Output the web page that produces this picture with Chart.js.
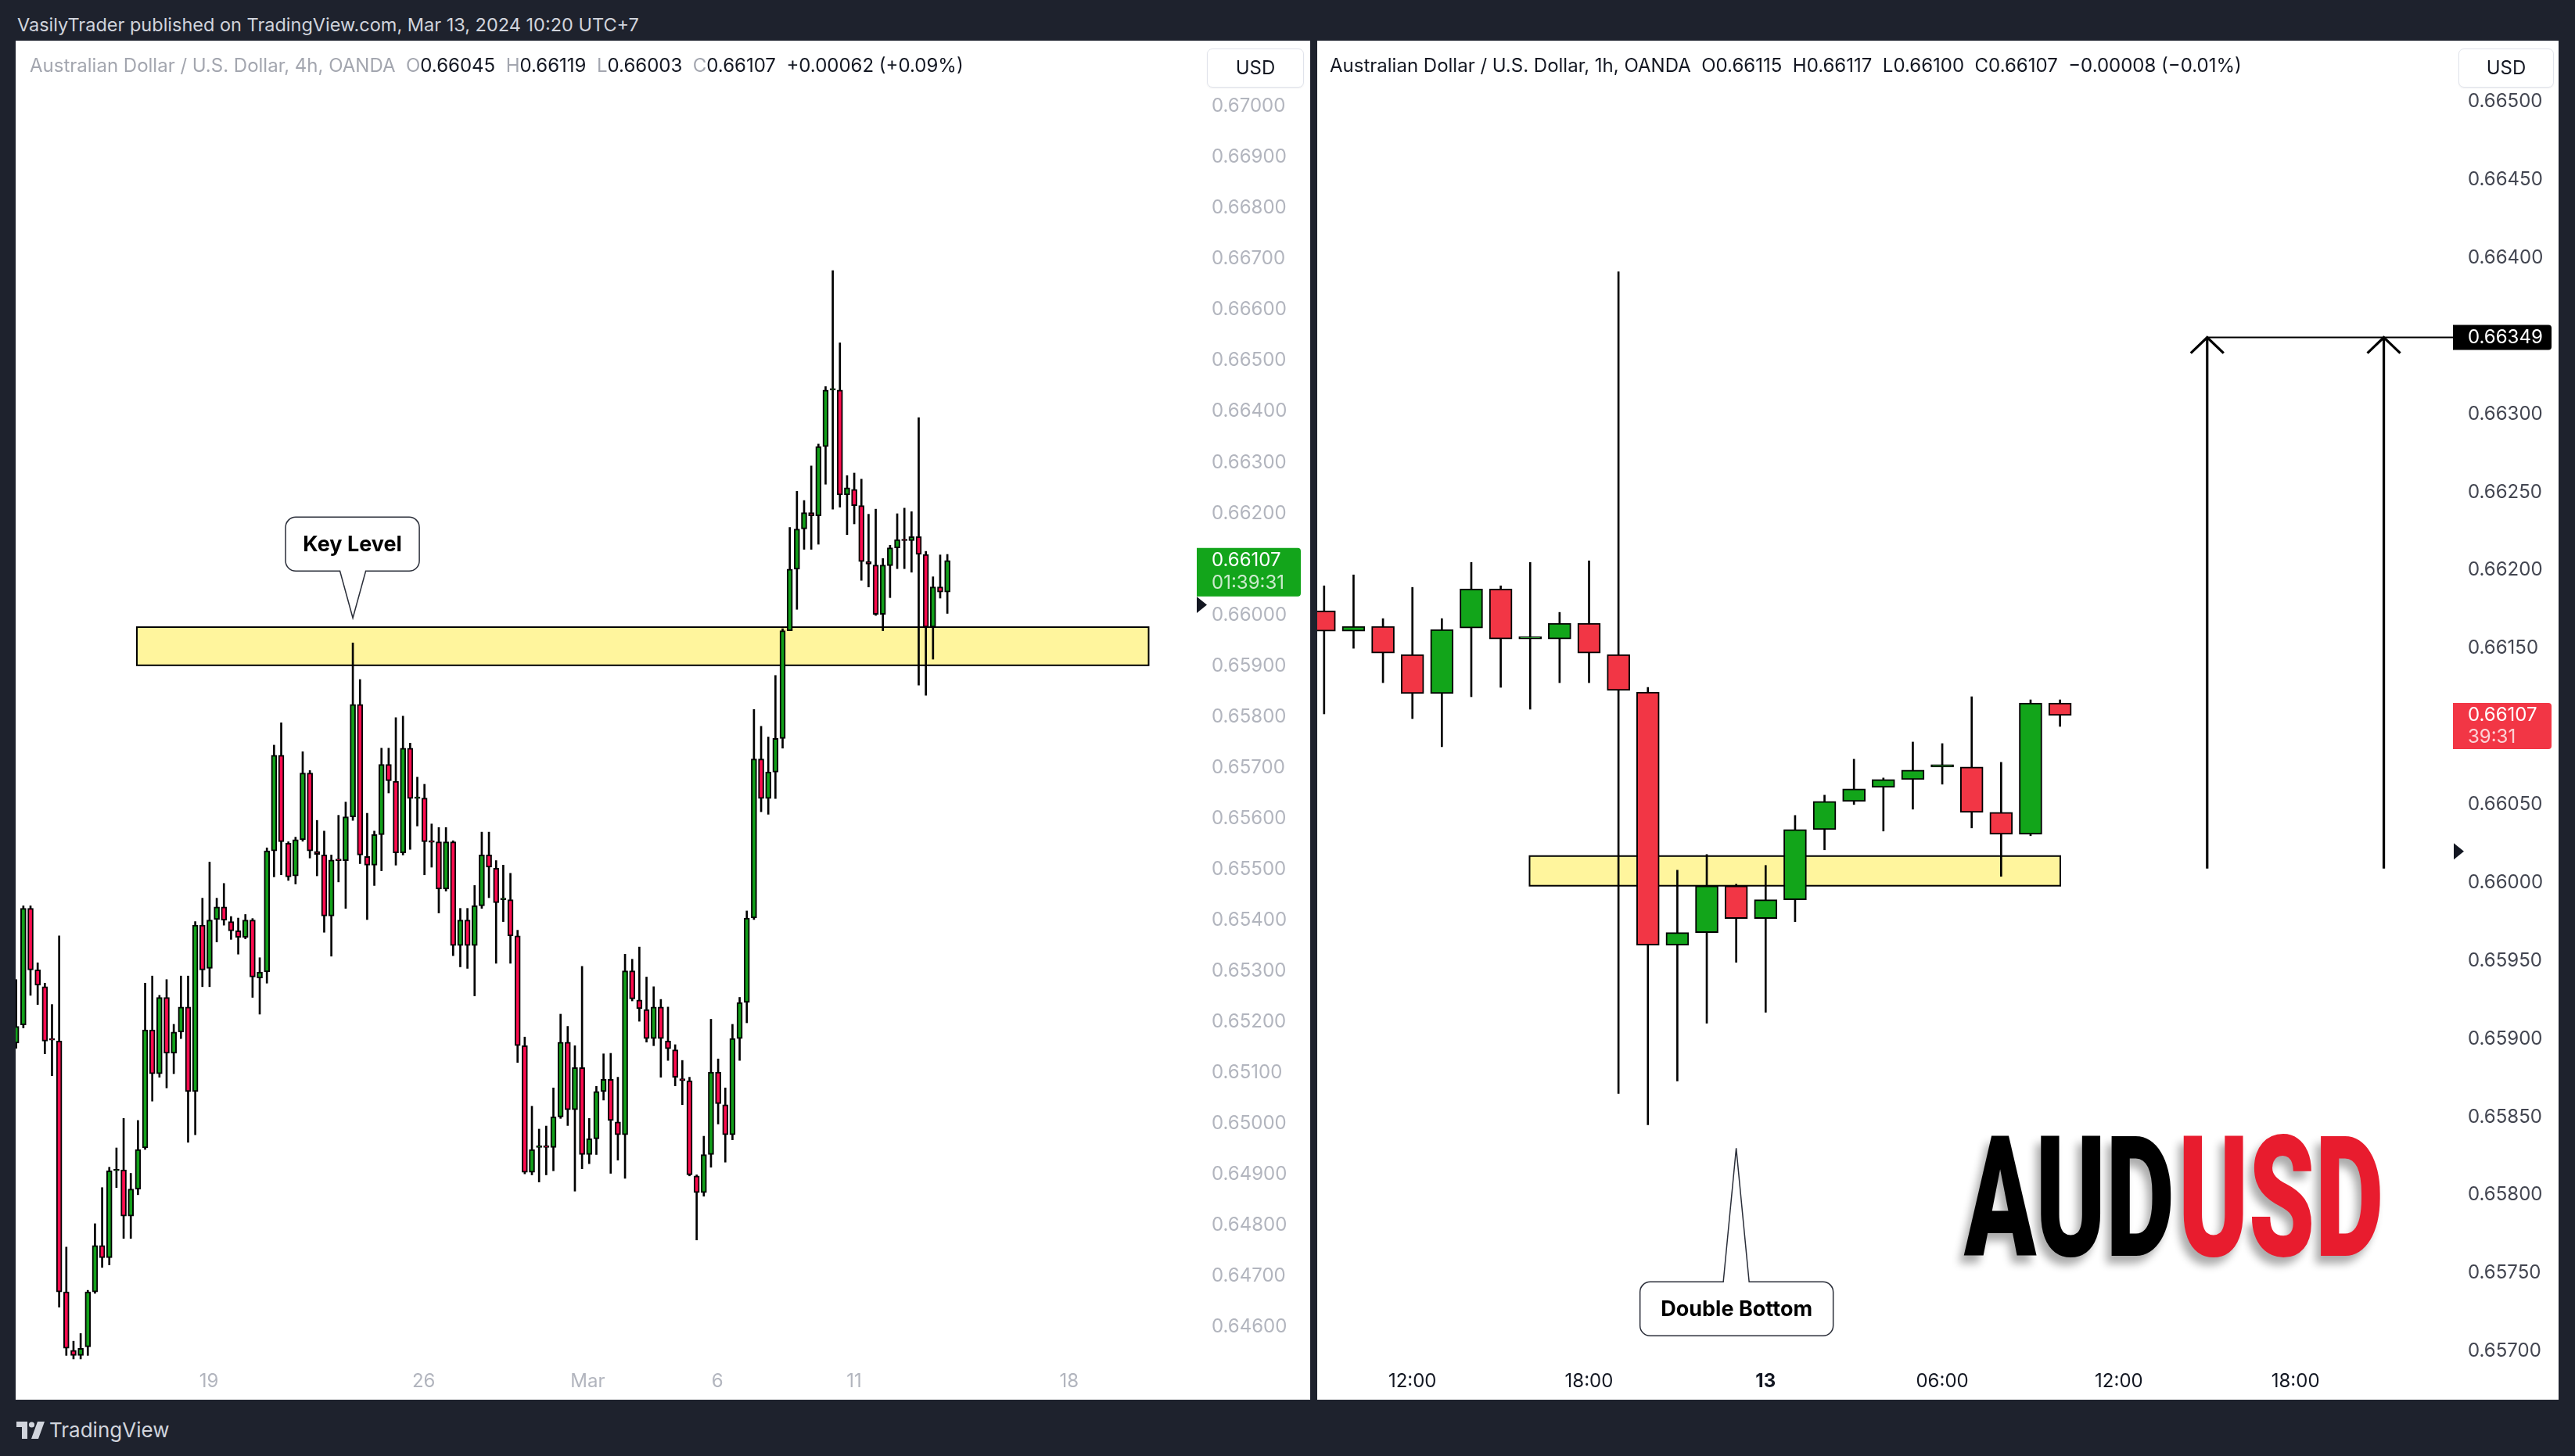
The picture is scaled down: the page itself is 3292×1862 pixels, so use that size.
<!DOCTYPE html>
<html>
<head>
<meta charset="utf-8">
<title>AUDUSD</title>
<script src="https://cdn.jsdelivr.net/npm/chart.js@4.4.1/dist/chart.umd.min.js"></script>
<style>
  html, body { margin:0; padding:0; }
  body { width:3292px; height:1862px; background:#1e222d; position:relative; overflow:hidden; font-family: Inter, Roboto, "Noto Sans", sans-serif; }
  #topline { position:absolute; left:22px; top:17px; font-size:23.5px; line-height:30px; color:#d1d4dc; white-space:nowrap; }
  .panel { position:absolute; top:52px; height:1738px; background:#fff; overflow:hidden; }
  #panelL { left:20px; width:1655px; }
  #panelR { left:1684px; width:1587px; }
  .panel canvas { position:absolute; left:0; top:0; }
  .hdr { position:absolute; top:17px; font-size:24px; line-height:30px; white-space:nowrap; color:#131722; }
  .hdr .dim { color:#a3a6af; }
  .usd { position:absolute; top:10px; height:48px; border:1px solid #e0e3eb; border-radius:7px; background:#fff; font-size:24px; line-height:48px; text-align:center; color:#131722; box-shadow:0 1px 2px rgba(0,0,0,0.06); }
  #logo { position:absolute; left:2511px; top:1425px; font-family: Roboto, "Liberation Sans", sans-serif; font-weight:900; font-size:215px; line-height:215px; white-space:nowrap; transform:scaleX(0.63); transform-origin:0 0; color:#000; text-shadow:-10px 10px 14px rgba(0,0,0,0.33); }
  #logo span { color:#e81c2e; margin-left:8px; }
  #footer { position:absolute; left:21px; top:1814px; height:30px; color:#d1d4dc; font-size:26px; line-height:30px; white-space:nowrap; }
  #footer svg { position:absolute; left:0; top:4px; }
  #footer span { position:absolute; left:42px; top:0; }
</style>
</head>
<body>
<div id="topline">VasilyTrader published on TradingView.com, Mar 13, 2024 10:20 UTC+7</div>

<div class="panel" id="panelL">
  <canvas id="chartL" width="1655" height="1738"></canvas>
  <div class="hdr" id="hdrL" style="left:18px;"></div>
  <div class="usd" style="left:1523px; width:122px;">USD</div>
</div>

<div class="panel" id="panelR">
  <canvas id="chartR" width="1587" height="1738"></canvas>
  <div class="hdr" id="hdrR" style="left:16px;"></div>
  <div class="usd" style="left:1459px; width:120px;">USD</div>
</div>

<div id="logo">AUD<span>USD</span></div>

<div id="footer">
  <svg width="36" height="22" viewBox="0 0 36 22"><path d="M0 0H14V22H7V7H0Z" fill="#d1d4dc"/><circle cx="19.5" cy="4" r="3.6" fill="#d1d4dc"/><path d="M27 0H36L28 22H19Z" fill="#d1d4dc"/></svg>
  <span>TradingView</span>
</div>

<script>
// ---------------- DATA: AUD/USD 4h (left panel) ----------------
const leftOpen = [0.65158,0.65194,0.65423,0.65302,0.65269,0.65165,0.65162,0.64669,0.64554,0.64544,
0.64561,0.64669,0.64760,0.64736,0.64907,0.64909,0.64818,0.64871,0.64952,0.65184,
0.65098,0.65248,0.65138,0.65180,0.65229,0.65063,0.65390,0.65305,0.65401,0.65426,
0.65397,0.65379,0.65366,0.65400,0.65286,0.65298,0.65536,0.65724,0.65551,0.65487,
0.65558,0.65689,0.65535,0.65528,0.65408,0.65518,0.65517,0.65603,0.65824,0.65525,
0.65508,0.65568,0.65706,0.65673,0.65532,0.65738,0.65639,0.65640,0.65554,0.65554,
0.65461,0.65554,0.65350,0.65400,0.65350,0.65428,0.65528,0.65502,0.65440,0.65440,
0.65369,0.65153,0.64904,0.64953,0.64954,0.64953,0.65013,0.65160,0.65027,0.65110,
0.64939,0.64970,0.65063,0.65087,0.65003,0.64978,0.65300,0.65243,0.65224,0.65167,
0.65229,0.65162,0.65145,0.65088,0.65084,0.64897,0.64864,0.64939,0.65101,0.65037,
0.64978,0.65167,0.65238,0.65404,0.65717,0.65639,0.65691,0.65757,0.65969,0.66090,
0.66169,0.66201,0.66195,0.66331,0.66442,0.66442,0.66236,0.66247,0.66215,0.66105,
0.66098,0.66001,0.66097,0.66132,0.66147,0.66146,0.66154,0.66119,0.65976,0.66055,
0.66045];
const leftHigh = [0.65283,0.65428,0.65428,0.65316,0.65276,0.65234,0.65369,0.64757,0.64572,0.64587,
0.64672,0.64803,0.64874,0.64914,0.64952,0.65010,0.64902,0.65006,0.65276,0.65290,
0.65252,0.65283,0.65195,0.65290,0.65290,0.65397,0.65443,0.65514,0.65443,0.65472,
0.65407,0.65404,0.65411,0.65403,0.65326,0.65542,0.65744,0.65788,0.65554,0.65563,
0.65731,0.65694,0.65596,0.65575,0.65528,0.65606,0.65632,0.65945,0.65873,0.65610,
0.65575,0.65738,0.65738,0.65798,0.65801,0.65748,0.65681,0.65667,0.65589,0.65582,
0.65582,0.65556,0.65423,0.65423,0.65468,0.65573,0.65573,0.65517,0.65508,0.65492,
0.65380,0.65170,0.65034,0.64989,0.64995,0.65070,0.65215,0.65191,0.65153,0.65309,
0.65010,0.65073,0.65137,0.65138,0.65091,0.65333,0.65323,0.65347,0.65288,0.65269,
0.65244,0.65229,0.65155,0.65124,0.65091,0.64899,0.64975,0.65205,0.65127,0.65070,
0.65195,0.65248,0.65418,0.65814,0.65781,0.65760,0.65881,0.65973,0.66172,0.66243,
0.66225,0.66293,0.66336,0.66449,0.66677,0.66535,0.66274,0.66279,0.66267,0.66198,
0.66208,0.66111,0.66137,0.66199,0.66210,0.66203,0.66388,0.66125,0.66075,0.66118,
0.66119];
const leftLow = [0.65148,0.65188,0.65252,0.65234,0.65137,0.65094,0.64639,0.64544,0.64537,0.64537,
0.64544,0.64666,0.64717,0.64722,0.64874,0.64774,0.64774,0.64860,0.64949,0.65044,
0.65091,0.65070,0.65098,0.65167,0.64963,0.64978,0.65269,0.65269,0.65357,0.65390,
0.65362,0.65333,0.65363,0.65248,0.65215,0.65276,0.65485,0.65489,0.65478,0.65471,
0.65555,0.65522,0.65487,0.65376,0.65329,0.65475,0.65423,0.65596,0.65511,0.65401,
0.65468,0.65497,0.65650,0.65508,0.65528,0.65539,0.65585,0.65489,0.65504,0.65414,
0.65457,0.65330,0.65308,0.65305,0.65251,0.65423,0.65444,0.65315,0.65397,0.65315,
0.65120,0.64901,0.64899,0.64885,0.64899,0.64907,0.65010,0.64996,0.64867,0.64911,
0.64921,0.64939,0.65046,0.64902,0.64928,0.64892,0.65241,0.65201,0.65160,0.65153,
0.65091,0.65124,0.65074,0.65037,0.64897,0.64771,0.64857,0.64914,0.64999,0.64924,
0.64968,0.65124,0.65198,0.65401,0.65613,0.65608,0.65639,0.65738,0.65969,0.66011,
0.66129,0.66129,0.66139,0.66257,0.66208,0.66212,0.66158,0.66179,0.66068,0.66055,
0.65999,0.65969,0.66034,0.66091,0.66091,0.66084,0.65862,0.65842,0.65913,0.66033,
0.66003];
const leftClose = [0.65191,0.65423,0.65302,0.65272,0.65162,0.65164,0.64669,0.64558,0.64544,0.64558,
0.64669,0.64760,0.64736,0.64907,0.64909,0.64818,0.64871,0.64949,0.65184,0.65098,
0.65248,0.65138,0.65180,0.65229,0.65063,0.65390,0.65302,0.65400,0.65426,0.65400,
0.65379,0.65366,0.65400,0.65288,0.65298,0.65536,0.65724,0.65554,0.65485,0.65558,
0.65689,0.65536,0.65529,0.65408,0.65518,0.65517,0.65603,0.65824,0.65528,0.65508,
0.65568,0.65706,0.65674,0.65532,0.65738,0.65639,0.65640,0.65554,0.65553,0.65461,
0.65554,0.65350,0.65400,0.65350,0.65428,0.65528,0.65504,0.65434,0.65441,0.65369,
0.65153,0.64904,0.64949,0.64954,0.64953,0.65013,0.65160,0.65027,0.65110,0.64939,
0.64970,0.65063,0.65087,0.65006,0.64978,0.65300,0.65245,0.65226,0.65167,0.65229,
0.65167,0.65147,0.65091,0.65084,0.64899,0.64864,0.64939,0.65101,0.65039,0.64978,
0.65167,0.65238,0.65404,0.65717,0.65639,0.65691,0.65757,0.65969,0.66090,0.66169,
0.66201,0.66195,0.66331,0.66442,0.66443,0.66236,0.66250,0.66215,0.66105,0.66100,
0.66001,0.66098,0.66132,0.66148,0.66146,0.66154,0.66119,0.65976,0.66055,0.66045,
0.66107];
const leftDateTickPos = [26.9, 56.9, 79.8, 97.9, 117, 147];
const leftDateTickLabels = ['19', '26', 'Mar', '6', '11', '18'];
const leftPriceTicks = [0.670,0.669,0.668,0.667,0.666,0.665,0.664,0.663,0.662,0.660,0.659,0.658,0.657,0.656,0.655,0.654,0.653,0.652,0.651,0.650,0.649,0.648,0.647,0.646];
const keyLevelZone = { from: 16.85, to: 158.1, top: 0.65976, bottom: 0.65901 };
const keyLevelNote = { x: 47, y: 0.65994, text: 'Key Level' };

// ---------------- DATA: AUD/USD 1h (right panel) ----------------
const rightOpen  = [0.66174,0.66161,0.66164,0.66146,0.66121,0.66163,0.66188,0.66156,0.66156,0.66166,0.66146,0.66122,0.65960,0.65968,0.65998,0.65977,0.65989,0.66034,0.66052,0.66061,0.66066,0.66074,0.66074,0.66045,0.66031,0.66115];
const rightHigh  = [0.66190,0.66197,0.66169,0.66189,0.66169,0.66205,0.66190,0.66205,0.66173,0.66206,0.66391,0.66125,0.66008,0.66018,0.65999,0.66011,0.66043,0.66056,0.66079,0.66067,0.66090,0.66089,0.66119,0.66077,0.66117,0.66117];
const rightLow   = [0.66108,0.66150,0.66128,0.66105,0.66087,0.66119,0.66125,0.66111,0.66128,0.66128,0.65865,0.65845,0.65873,0.65910,0.65949,0.65917,0.65975,0.66021,0.66050,0.66033,0.66047,0.66063,0.66035,0.66004,0.66030,0.66100];
const rightClose = [0.66161,0.66164,0.66147,0.66121,0.66162,0.66188,0.66156,0.66156,0.66166,0.66147,0.66123,0.65960,0.65968,0.65998,0.65977,0.65989,0.66034,0.66052,0.66060,0.66066,0.66072,0.66074,0.66045,0.66031,0.66115,0.66107];
const rightTimeTickPos = [3, 9, 15, 21, 27, 33];
const rightTimeTickLabels = ['12:00', '18:00', '13', '06:00', '12:00', '18:00'];
const rightPriceTicks = [0.665,0.6645,0.664,0.663,0.6625,0.662,0.6615,0.6605,0.660,0.6595,0.659,0.6585,0.658,0.6575,0.657];
const doubleBottomZone = { from: 6.98, to: 25.01, top: 0.66017, bottom: 0.65998 };
const doubleBottomNote = { x: 14, y: 0.65830, text: 'Double Bottom' };
const targetPrice = 0.66349;
const arrowBase = 0.66009;
const arrowPos = [30, 36];
const markerPrice = 0.6602;

// ---------------- helpers ----------------
const FONT = 'Inter, Roboto, sans-serif';
function fmt(v){ return Number(v).toFixed(5); }
function signed(v){ return (v >= 0 ? '+' : '\u2212') + Math.abs(v).toFixed(5); }
function signedPct(v){ return (v >= 0 ? '+' : '\u2212') + Math.abs(v).toFixed(2) + '%'; }

function header(el, title, O, H, L, C, prevC, dim){
  const ch = C - prevC, pct = ch / prevC * 100;
  const d = dim ? ' class="dim"' : '';
  el.innerHTML = '<span' + d + '>' + title + '</span>&nbsp;&nbsp;' +
    '<span' + d + '>O</span>' + fmt(O) + '&nbsp;&nbsp;' +
    '<span' + d + '>H</span>' + fmt(H) + '&nbsp;&nbsp;' +
    '<span' + d + '>L</span>' + fmt(L) + '&nbsp;&nbsp;' +
    '<span' + d + '>C</span>' + fmt(C) + '&nbsp;&nbsp;' +
    signed(ch) + ' (' + signedPct(pct) + ')';
}

function roundedPath(ctx, x, y, w, h, rTL, rTR, rBR, rBL){
  ctx.beginPath();
  ctx.moveTo(x + rTL, y);
  ctx.lineTo(x + w - rTR, y); ctx.arcTo(x + w, y, x + w, y + rTR, rTR);
  ctx.lineTo(x + w, y + h - rBR); ctx.arcTo(x + w, y + h, x + w - rBR, y + h, rBR);
  ctx.lineTo(x + rBL, y + h); ctx.arcTo(x, y + h, x, y + h - rBL, rBL);
  ctx.lineTo(x, y + rTL); ctx.arcTo(x, y, x + rTL, y, rTL);
  ctx.closePath();
}

function priceTag(ctx, x, yc, w, h, bg, line1, line2, gap){
  ctx.save();
  ctx.fillStyle = bg;
  roundedPath(ctx, x, yc - 16, w, h, 0.01, 4, 4, 0.01);
  ctx.fill();
  ctx.font = '24px ' + FONT;
  ctx.textBaseline = 'middle';
  ctx.textAlign = 'left';
  ctx.fillStyle = '#ffffff';
  ctx.fillText(line1, x + 19, yc);
  if (line2) { ctx.fillStyle = 'rgba(255,255,255,0.78)'; ctx.fillText(line2, x + 19, yc + gap); }
  ctx.restore();
}

function marker(ctx, x, yc){
  ctx.save();
  ctx.fillStyle = '#131722';
  ctx.beginPath();
  ctx.moveTo(x, yc - 10.5); ctx.lineTo(x + 13, yc); ctx.lineTo(x, yc + 10.5); ctx.closePath();
  ctx.fill();
  ctx.restore();
}

function zone(chart, z){
  const {ctx, scales:{x, y}} = chart;
  const x0 = x.getPixelForValue(z.from), x1 = x.getPixelForValue(z.to);
  const y0 = y.getPixelForValue(z.top), y1 = y.getPixelForValue(z.bottom);
  ctx.save();
  ctx.fillStyle = '#fff59d';
  ctx.fillRect(x0, y0, x1 - x0, y1 - y0);
  ctx.lineWidth = 2;
  ctx.strokeStyle = '#000';
  ctx.strokeRect(x0, y0, x1 - x0, y1 - y0);
  ctx.restore();
}

function bubble(ctx, tipX, tipY, box, text, up){
  const r = 13, hw = 16.5;
  ctx.save();
  ctx.beginPath();
  ctx.moveTo(box.l + r, box.t);
  if (up) { ctx.lineTo(tipX - hw, box.t); ctx.lineTo(tipX, tipY); ctx.lineTo(tipX + hw, box.t); }
  ctx.lineTo(box.r - r, box.t); ctx.arcTo(box.r, box.t, box.r, box.t + r, r);
  ctx.lineTo(box.r, box.b - r); ctx.arcTo(box.r, box.b, box.r - r, box.b, r);
  if (!up) { ctx.lineTo(tipX + hw, box.b); ctx.lineTo(tipX, tipY); ctx.lineTo(tipX - hw, box.b); }
  ctx.lineTo(box.l + r, box.b); ctx.arcTo(box.l, box.b, box.l, box.b - r, r);
  ctx.lineTo(box.l, box.t + r); ctx.arcTo(box.l, box.t, box.l + r, box.t, r);
  ctx.closePath();
  ctx.fillStyle = '#ffffff';
  ctx.fill();
  ctx.lineWidth = 1.5;
  ctx.strokeStyle = '#2a2e39';
  ctx.stroke();
  ctx.fillStyle = '#000000';
  ctx.font = 'bold 27px ' + FONT;
  ctx.textAlign = 'center';
  ctx.textBaseline = 'middle';
  ctx.fillText(text, (box.l + box.r) / 2, (box.t + box.b) / 2 + 1);
  ctx.restore();
}

function candleDatasets(O, H, L, C, up, down, bodyW, wickW, minLen){
  const idx = O.map((_, i) => i);
  return [
    { label:'body', data: idx.map(i => ({x:i, y:[O[i], C[i]]})),
      backgroundColor: idx.map(i => C[i] >= O[i] ? up : down),
      borderColor:'#000', borderWidth:2, borderSkipped:false, barThickness: bodyW,
      minBarLength: minLen, grouped:false, order:1 },
    { label:'wick', data: idx.map(i => ({x:i, y:[L[i], H[i]]})),
      backgroundColor:'#000', borderWidth:0, barThickness: wickW, grouped:false, order:2 }
  ];
}

function makeOptions(cfg){
  return {
    responsive:false, animation:false, maintainAspectRatio:false,
    layout:{ padding:0 },
    plugins:{ legend:{display:false}, tooltip:{enabled:false} },
    scales:{
      x:{ type:'linear', min:cfg.xMin, max:cfg.xMax, offset:false,
          grid:{display:false, drawTicks:false}, border:{display:false},
          afterFit: s => { s.height = 50; s.paddingLeft = 0; s.paddingRight = 0; s.paddingTop = 0; s.paddingBottom = 0; },
          afterBuildTicks: s => { s.ticks = cfg.xTicks.map(v => ({value:v})); },
          ticks:{ autoSkip:false, maxRotation:0, padding:12, color:cfg.xColor,
                  font: c => ({family:FONT, size:24, weight: (cfg.boldIdx === c.index) ? 'bold' : 'normal'}),
                  callback: (v, i) => cfg.xLabels[i] } },
      y:{ type:'linear', position:'right', min:cfg.yMin, max:cfg.yMax,
          grid:{display:false, drawTicks:false}, border:{display:false},
          afterFit: s => { s.width = cfg.yWidth; s.paddingTop = 0; s.paddingBottom = 0; s.paddingLeft = 0; s.paddingRight = 0; },
          afterBuildTicks: s => { s.ticks = cfg.yTicks.map(v => ({value:v})); },
          ticks:{ autoSkip:false, padding:19, color:cfg.yColor, font:{family:FONT, size:24},
                  callback: v => fmt(v) } }
    }
  };
}

// headers
const nL = leftClose.length, nR = rightClose.length;
header(document.getElementById('hdrL'), 'Australian Dollar / U.S. Dollar, 4h, OANDA',
  leftOpen[nL-1], leftHigh[nL-1], leftLow[nL-1], leftClose[nL-1], leftClose[nL-2], true);
header(document.getElementById('hdrR'), 'Australian Dollar / U.S. Dollar, 1h, OANDA',
  rightOpen[nR-1], rightHigh[nR-1], rightLow[nR-1], rightClose[nR-1], rightClose[nR-2], false);

// ---------------- left chart ----------------
const leftDecor = {
  id:'leftDecor',
  beforeDatasetsDraw(chart){ zone(chart, keyLevelZone); },
  afterDatasetsDraw(chart){
    const {ctx, scales:{x, y}} = chart;
    const tx = x.getPixelForValue(keyLevelNote.x), ty = y.getPixelForValue(keyLevelNote.y);
    bubble(ctx, tx, ty, {l:tx - 86, r:tx + 85, t:ty - 129, b:ty - 60}, keyLevelNote.text, false);
  },
  afterDraw(chart){
    const {ctx, chartArea, scales:{y}} = chart;
    const last = leftClose[leftClose.length - 1];
    priceTag(ctx, chartArea.right, y.getPixelForValue(last), 133, 62, '#13a51b', fmt(last), '01:39:31', 29);
    marker(ctx, chartArea.right, y.getPixelForValue(markerPrice));
  }
};

new Chart(document.getElementById('chartL'), {
  type:'bar',
  data:{ datasets: candleDatasets(leftOpen, leftHigh, leftLow, leftClose, '#12a01a', '#ff0c4f', 7, 2, 2) },
  options: makeOptions({ xMin:-0.076, xMax:164.82, yMin:0.645338, yMax:0.671292, yWidth:145,
    xTicks:leftDateTickPos, xLabels:leftDateTickLabels, yTicks:leftPriceTicks,
    xColor:'#b2b5be', yColor:'#b2b5be', boldIdx:-1 }),
  plugins:[leftDecor]
});

// ---------------- right chart ----------------
const rightDecor = {
  id:'rightDecor',
  beforeDatasetsDraw(chart){ zone(chart, doubleBottomZone); },
  afterDatasetsDraw(chart){
    const {ctx, chartArea, scales:{x, y}} = chart;
    const yt = y.getPixelForValue(targetPrice), yb = y.getPixelForValue(arrowBase);
    ctx.save();
    ctx.strokeStyle = '#000';
    ctx.lineWidth = 2;
    ctx.beginPath();
    ctx.moveTo(x.getPixelForValue(arrowPos[0]), yt); ctx.lineTo(chartArea.right, yt);
    ctx.stroke();
    ctx.lineWidth = 3.2;
    ctx.lineCap = 'butt';
    arrowPos.forEach(p => {
      const ax = x.getPixelForValue(p);
      ctx.beginPath(); ctx.moveTo(ax, yb); ctx.lineTo(ax, yt); ctx.stroke();
      ctx.beginPath(); ctx.moveTo(ax - 21, yt + 20); ctx.lineTo(ax, yt); ctx.lineTo(ax + 21, yt + 20); ctx.stroke();
    });
    ctx.restore();
    const tx = x.getPixelForValue(doubleBottomNote.x), ty = y.getPixelForValue(doubleBottomNote.y);
    bubble(ctx, tx, ty, {l:tx - 123, r:tx + 124, t:ty + 171, b:ty + 240}, doubleBottomNote.text, true);
  },
  afterDraw(chart){
    const {ctx, chartArea, scales:{y}} = chart;
    const last = rightClose[rightClose.length - 1];
    priceTag(ctx, chartArea.right, y.getPixelForValue(targetPrice), 126, 32, '#000000', fmt(targetPrice), null, 0);
    priceTag(ctx, chartArea.right, y.getPixelForValue(last), 126, 59, '#f23645', fmt(last), '39:31', 28);
    marker(ctx, chartArea.right + 1, y.getPixelForValue(markerPrice));
  }
};

new Chart(document.getElementById('chartR'), {
  type:'bar',
  data:{ datasets: candleDatasets(rightOpen, rightHigh, rightLow, rightClose, '#12a51a', '#f23645', 29, 2, 3) },
  options: makeOptions({ xMin:-0.234, xMax:38.35, yMin:0.656940, yMax:0.665390, yWidth:135,
    xTicks:rightTimeTickPos, xLabels:rightTimeTickLabels, yTicks:rightPriceTicks,
    xColor:'#131722', yColor:'#434651', boldIdx:2 }),
  plugins:[rightDecor]
});
</script>
</body>
</html>
